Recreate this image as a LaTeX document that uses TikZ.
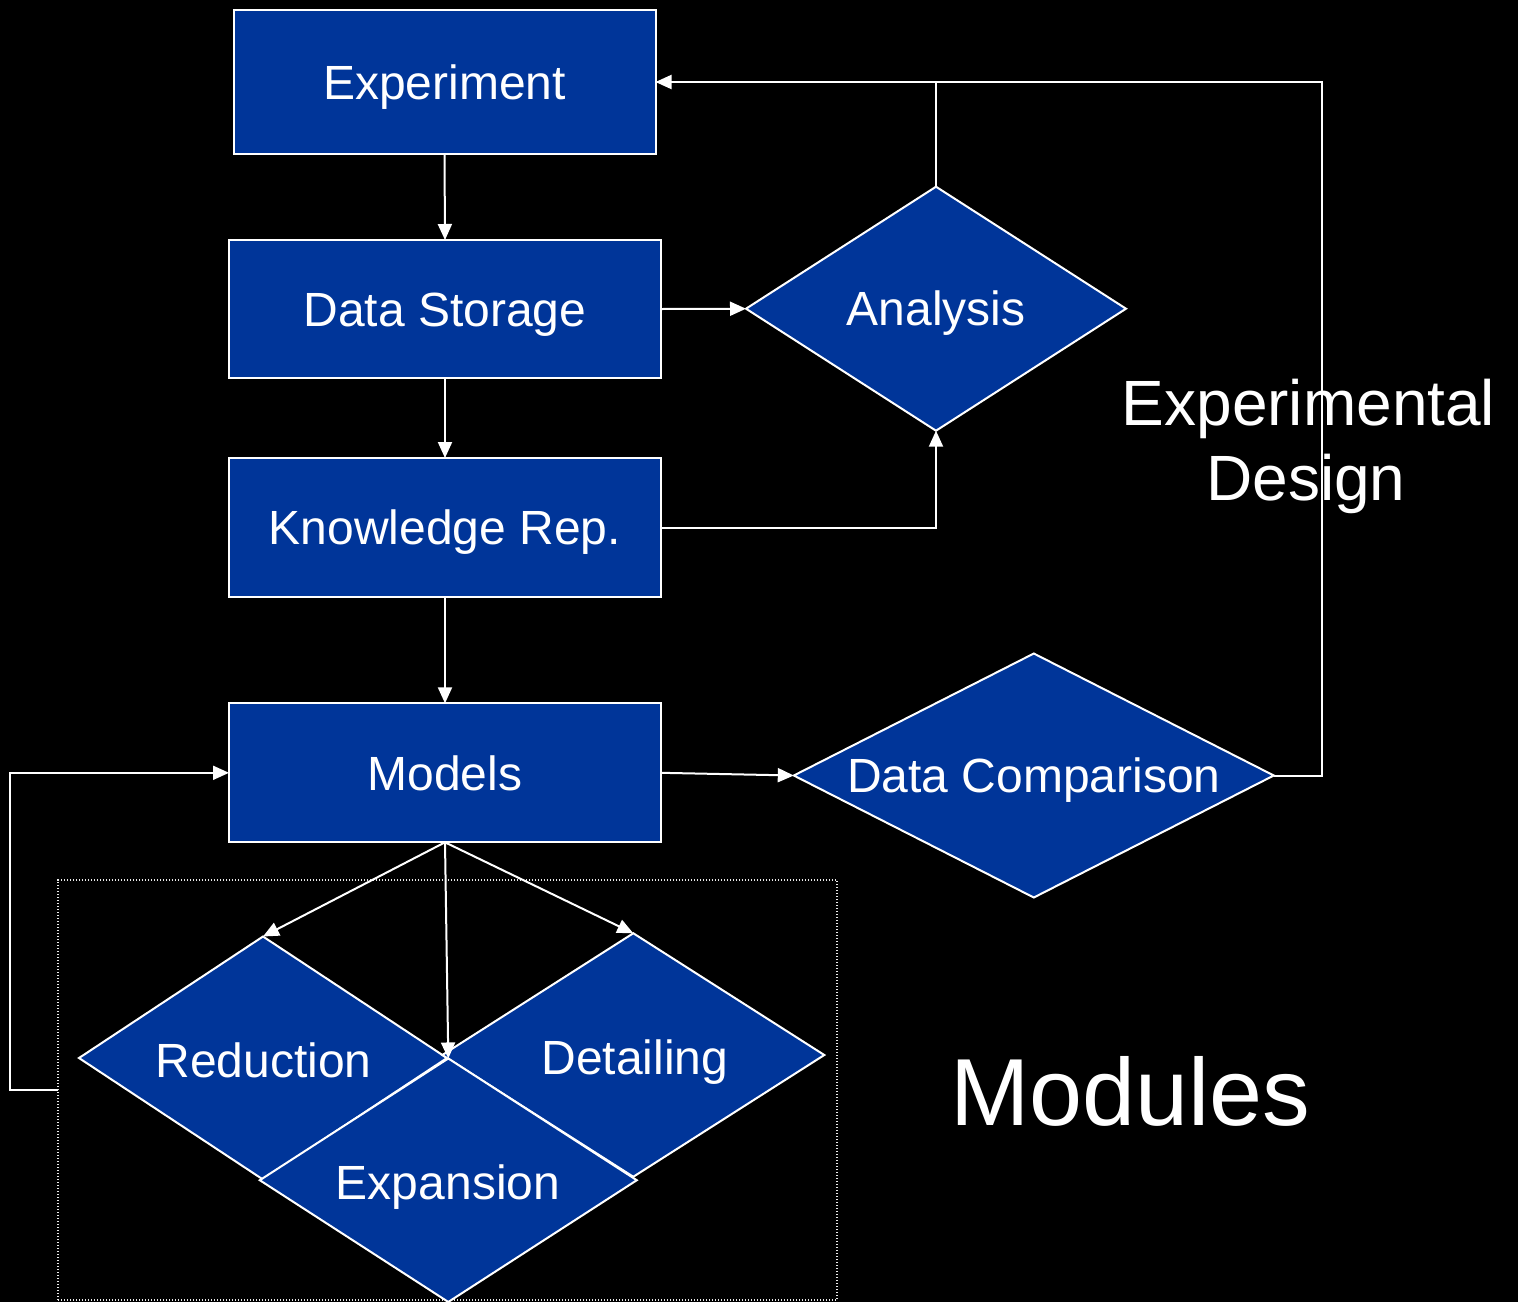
\documentclass[tikz,border=0pt]{standalone}
\usepackage{fontspec}
\setmainfont{Liberation Sans}
\usetikzlibrary{arrows.meta,shapes.geometric}
\definecolor{boxblue}{RGB}{0,53,153}
\begin{document}
\begin{tikzpicture}[x=1pt,y=-1pt,
  box/.style={rectangle, draw=white, line width=2pt, fill=boxblue, text=white,
    font=\fontsize{48}{57}\selectfont, text height=34.4pt, text depth=0pt,
    inner sep=0pt, outer sep=0pt},
  dia/.style={diamond, draw=white, line width=2pt, fill=boxblue, inner sep=0pt, outer sep=0pt},
  lbl/.style={text=white, font=\fontsize{48}{57}\selectfont, text height=34.4pt,
    text depth=0pt, inner sep=0pt},
  conn/.style={draw=white, line width=2pt},
  arr/.style={conn, -{Triangle[length=16pt,width=14pt]}}]
\fill[black] (0,0) rectangle (1518,1302);
\useasboundingbox (0,0) rectangle (1518,1302);

% dotted module frame
\node[draw=white!92!black, line width=1.2pt, dash pattern=on 1.2pt off 1.8pt,
  minimum width=779pt, minimum height=420pt, inner sep=0pt, outer sep=0pt] (modbox) at (447.5,1090) {};

% boxes
\node[box, minimum width=422pt, minimum height=144pt] (exp) at (444.5,82) {Experiment};
\node[box, minimum width=432pt, minimum height=138pt] (ds) at (445,309) {Data Storage};
\node[box, minimum width=432pt, minimum height=139pt] (kr) at (445,527.5) {Knowledge Rep.};
\node[box, minimum width=432pt, minimum height=139pt] (mod) at (445,772.8) {Models};

% diamonds
\node[dia, minimum width=380pt, minimum height=244pt] (an) at (936,308.7) {};
\node[lbl] (anT) at (an.center) {Analysis};
\node[dia, minimum width=480pt, minimum height=244pt] (dc) at (1033.8,775.5) {};
\node[lbl] (dcT) at (dc.center) {Data Comparison};

\node[dia, minimum width=368pt, minimum height=243pt] (red) at (263,1058) {};
\node[lbl] (redT) at (263.5,1060) {Reduction};
\node[dia, minimum width=382pt, minimum height=243.5pt] (det) at (633.3,1055) {};
\node[lbl] (detT) at (635,1057) {Detailing};
\node[dia, minimum width=377pt, minimum height=243.5pt] (expa) at (448.3,1180.2) {};
\node[lbl] (expaT) at (448,1182) {Expansion};

% free texts
\node[text=white, font=\fontsize{64}{76}\selectfont, inner sep=0pt, anchor=base] (ed1) at (1308.5,425) {Experimental};
\node[text=white, font=\fontsize{64}{76}\selectfont, inner sep=0pt, anchor=base] (ed2) at (1306,500) {Design};
\node[text=white, font=\fontsize{95.3}{112}\selectfont, inner sep=0pt, anchor=base] (modT) at (1130.5,1125) {Modules};

% connectors
\draw[arr] (exp.south) -- (ds.north);
\draw[arr] (ds.south) -- (kr.north);
\draw[arr] (kr.south) -- (mod.north);
\draw[arr] (ds.east) -- (an.west);
\draw[arr] (kr.east) -| (an.south);
\draw[conn] (an.north) -- (an.north |- exp.east);
\coordinate (edc) at (1322,775.5);
\draw[arr] (dc.east) -- (edc) |- (exp.east);
\draw[arr] (mod.east) -- (dc.west);
\draw[arr] (mod.south) -- (red.north);
\draw[arr] (mod.south) -- (det.north);
\draw[arr] (mod.south) -- (expa.north);
\draw[arr] (modbox.west) -- ++(-48,0) |- (mod.west);
\end{tikzpicture}
\end{document}
